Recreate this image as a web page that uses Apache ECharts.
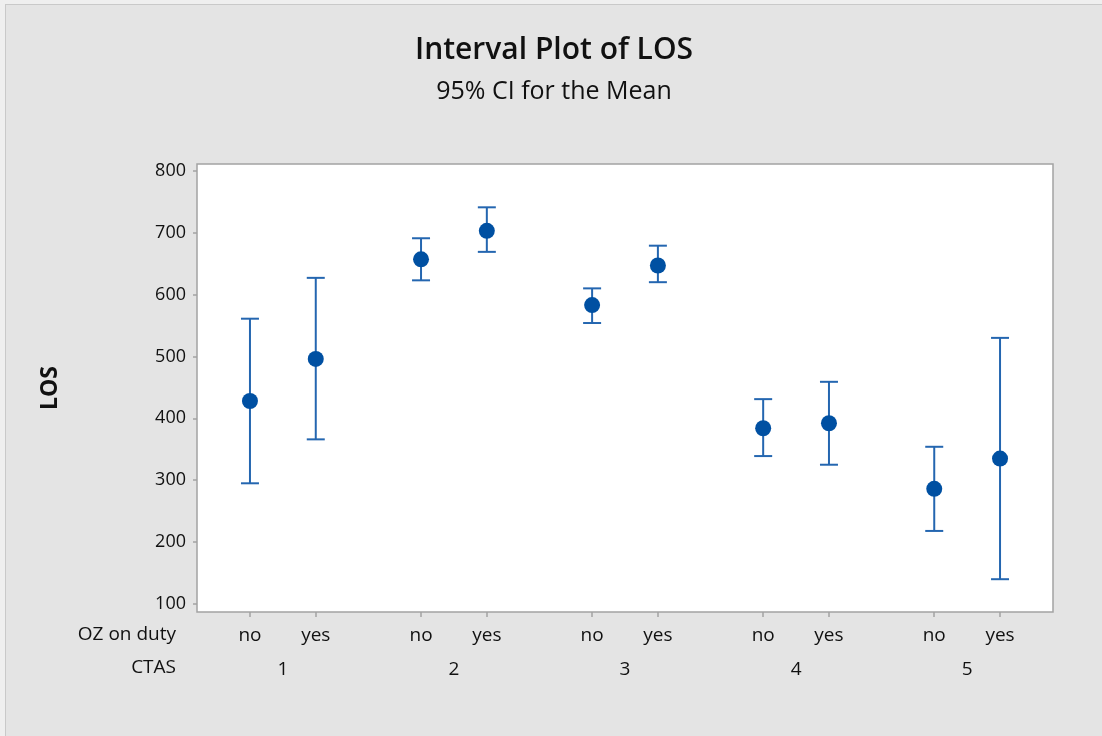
<!DOCTYPE html>
<html>
<head>
<meta charset="utf-8">
<title>Interval Plot of LOS</title>
<script src="https://cdn.jsdelivr.net/npm/echarts@6/dist/echarts.min.js"></script>
<style>
  html, body { margin: 0; padding: 0; background: #efefef; width: 1102px; height: 736px; overflow: hidden; }
  #frame { position: absolute; left: 5px; top: 4px; width: 1097px; height: 732px;
           border-top: 1px solid #c9c9c9; border-left: 1px solid #c9c9c9; background: #e4e4e4; }
  #chart { width: 1096px; height: 731px; }
</style>
</head>
<body>
<div id="frame"><div id="chart"></div></div>
<script>
// CTAS groups and OZ-on-duty levels (inner factor)
const ctasGroups = ['1', '2', '3', '4', '5'];
const ozLevels = ['no', 'yes'];

// Mean LOS and 95% CI bounds, ordered CTAS 1..5, each no / yes
const meanLOS  = [428, 496, 657, 703, 583, 647, 384, 392, 286, 335];
const lowerCI  = [295, 366, 623, 669, 554, 620, 339, 325, 218, 140];
const upperCI  = [561, 627, 691, 741, 610, 679, 431, 459, 354, 530];

// y-axis tick labels
const yTicks = [100, 200, 300, 400, 500, 600, 700, 800];

// x layout: one unit between levels inside a group, wider step between groups
const groupStep = 2.6;
const xPos = [];
const xLevelName = [];
ctasGroups.forEach((g, gi) => {
  ozLevels.forEach((lv, li) => {
    xPos.push(gi * groupStep + li);
    xLevelName.push(lv);
  });
});
const groupCenters = ctasGroups.map((g, gi) => gi * groupStep + (ozLevels.length - 1) / 2);

const FONT = '"Open Sans", "Noto Sans", sans-serif';
const barColor = '#2466b0';
const dotColor = '#0050a2';

function nearestIndex(arr, v) {
  let best = 0;
  for (let i = 1; i < arr.length; i++) {
    if (Math.abs(arr[i] - v) < Math.abs(arr[best] - v)) best = i;
  }
  return best;
}

const xMin = -0.805, xMax = (ctasGroups.length - 1) * groupStep + 1 + 0.805;

const chart = echarts.init(document.getElementById('chart'), null, { renderer: 'canvas' });

chart.setOption({
  backgroundColor: '#e4e4e4',
  animation: false,
  title: [
    {
      text: 'Interval Plot of LOS',
      left: 'center', top: 25,
      textStyle: { fontFamily: FONT, fontSize: 30, fontWeight: 600, color: '#111' }
    },
    {
      text: '95% CI for the Mean',
      left: 'center', top: 69,
      textStyle: { fontFamily: FONT, fontSize: 25, fontWeight: 'normal', color: '#111' }
    }
  ],
  grid: {
    left: 191, top: 159, right: 49, bottom: 124,
    show: true, backgroundColor: '#ffffff',
    borderColor: '#a3a3a3', borderWidth: 1.5
  },
  xAxis: [
    {
      type: 'value', min: xMin, max: xMax, position: 'bottom',
      axisLine: { show: false, onZero: false },
      splitLine: { show: false },
      axisTick: { show: true, length: 5, customValues: xPos, lineStyle: { color: '#a3a3a3', width: 1.5 } },
      axisLabel: {
        show: true, customValues: xPos, margin: 14,
        fontFamily: FONT, fontSize: 19, color: '#111',
        formatter: v => xLevelName[nearestIndex(xPos, v)]
      }
    },
    {
      type: 'value', min: xMin, max: xMax, position: 'bottom', gridIndex: 0,
      axisLine: { show: false, onZero: false },
      splitLine: { show: false },
      axisTick: { show: false },
      axisLabel: {
        show: true, customValues: groupCenters, margin: 48,
        fontFamily: FONT, fontSize: 19, color: '#111',
        formatter: v => ctasGroups[nearestIndex(groupCenters, v)]
      }
    }
  ],
  yAxis: {
    type: 'value', min: 87, max: 811,
    name: 'LOS', nameLocation: 'middle', nameRotate: 90, nameGap: 135,
    nameTextStyle: { fontFamily: FONT, fontSize: 23, fontWeight: 'bold', color: '#111' },
    axisLine: { show: false, onZero: false },
    splitLine: { show: false },
    axisTick: { show: true, length: 4, customValues: yTicks, lineStyle: { color: '#a3a3a3', width: 1.5 } },
    axisLabel: {
      show: true, customValues: yTicks, margin: 11,
      fontFamily: FONT, fontSize: 18, color: '#111',
      padding: [4, 0, 0, 0]
    }
  },
  graphic: [
    {
      type: 'text', right: 1096 - 170, top: 620,
      style: { text: 'OZ on duty', fontFamily: FONT, fontSize: 19, fill: '#111', textAlign: 'right' }
    },
    {
      type: 'text', right: 1096 - 170, top: 653,
      style: { text: 'CTAS', fontFamily: FONT, fontSize: 19, fill: '#111', textAlign: 'right' }
    }
  ],
  series: [
    {
      type: 'custom',
      xAxisIndex: 0,
      data: xPos.map((x, i) => [x, lowerCI[i], upperCI[i]]),
      renderItem: function (params, api) {
        const x = api.value(0);
        const lo = api.coord([x, api.value(1)]);
        const hi = api.coord([x, api.value(2)]);
        const hw = 9;
        const style = { stroke: barColor, lineWidth: 2 };
        return {
          type: 'group',
          children: [
            { type: 'line', shape: { x1: hi[0], y1: hi[1], x2: lo[0], y2: lo[1] }, style: style },
            { type: 'line', shape: { x1: hi[0] - hw, y1: hi[1], x2: hi[0] + hw, y2: hi[1] }, style: style },
            { type: 'line', shape: { x1: lo[0] - hw, y1: lo[1], x2: lo[0] + hw, y2: lo[1] }, style: style }
          ]
        };
      },
      z: 2
    },
    {
      type: 'scatter',
      xAxisIndex: 0,
      symbol: 'circle',
      symbolSize: 16,
      itemStyle: { color: dotColor, opacity: 1 },
      data: xPos.map((x, i) => [x, meanLOS[i]]),
      z: 3
    }
  ]
});
</script>
</body>
</html>
